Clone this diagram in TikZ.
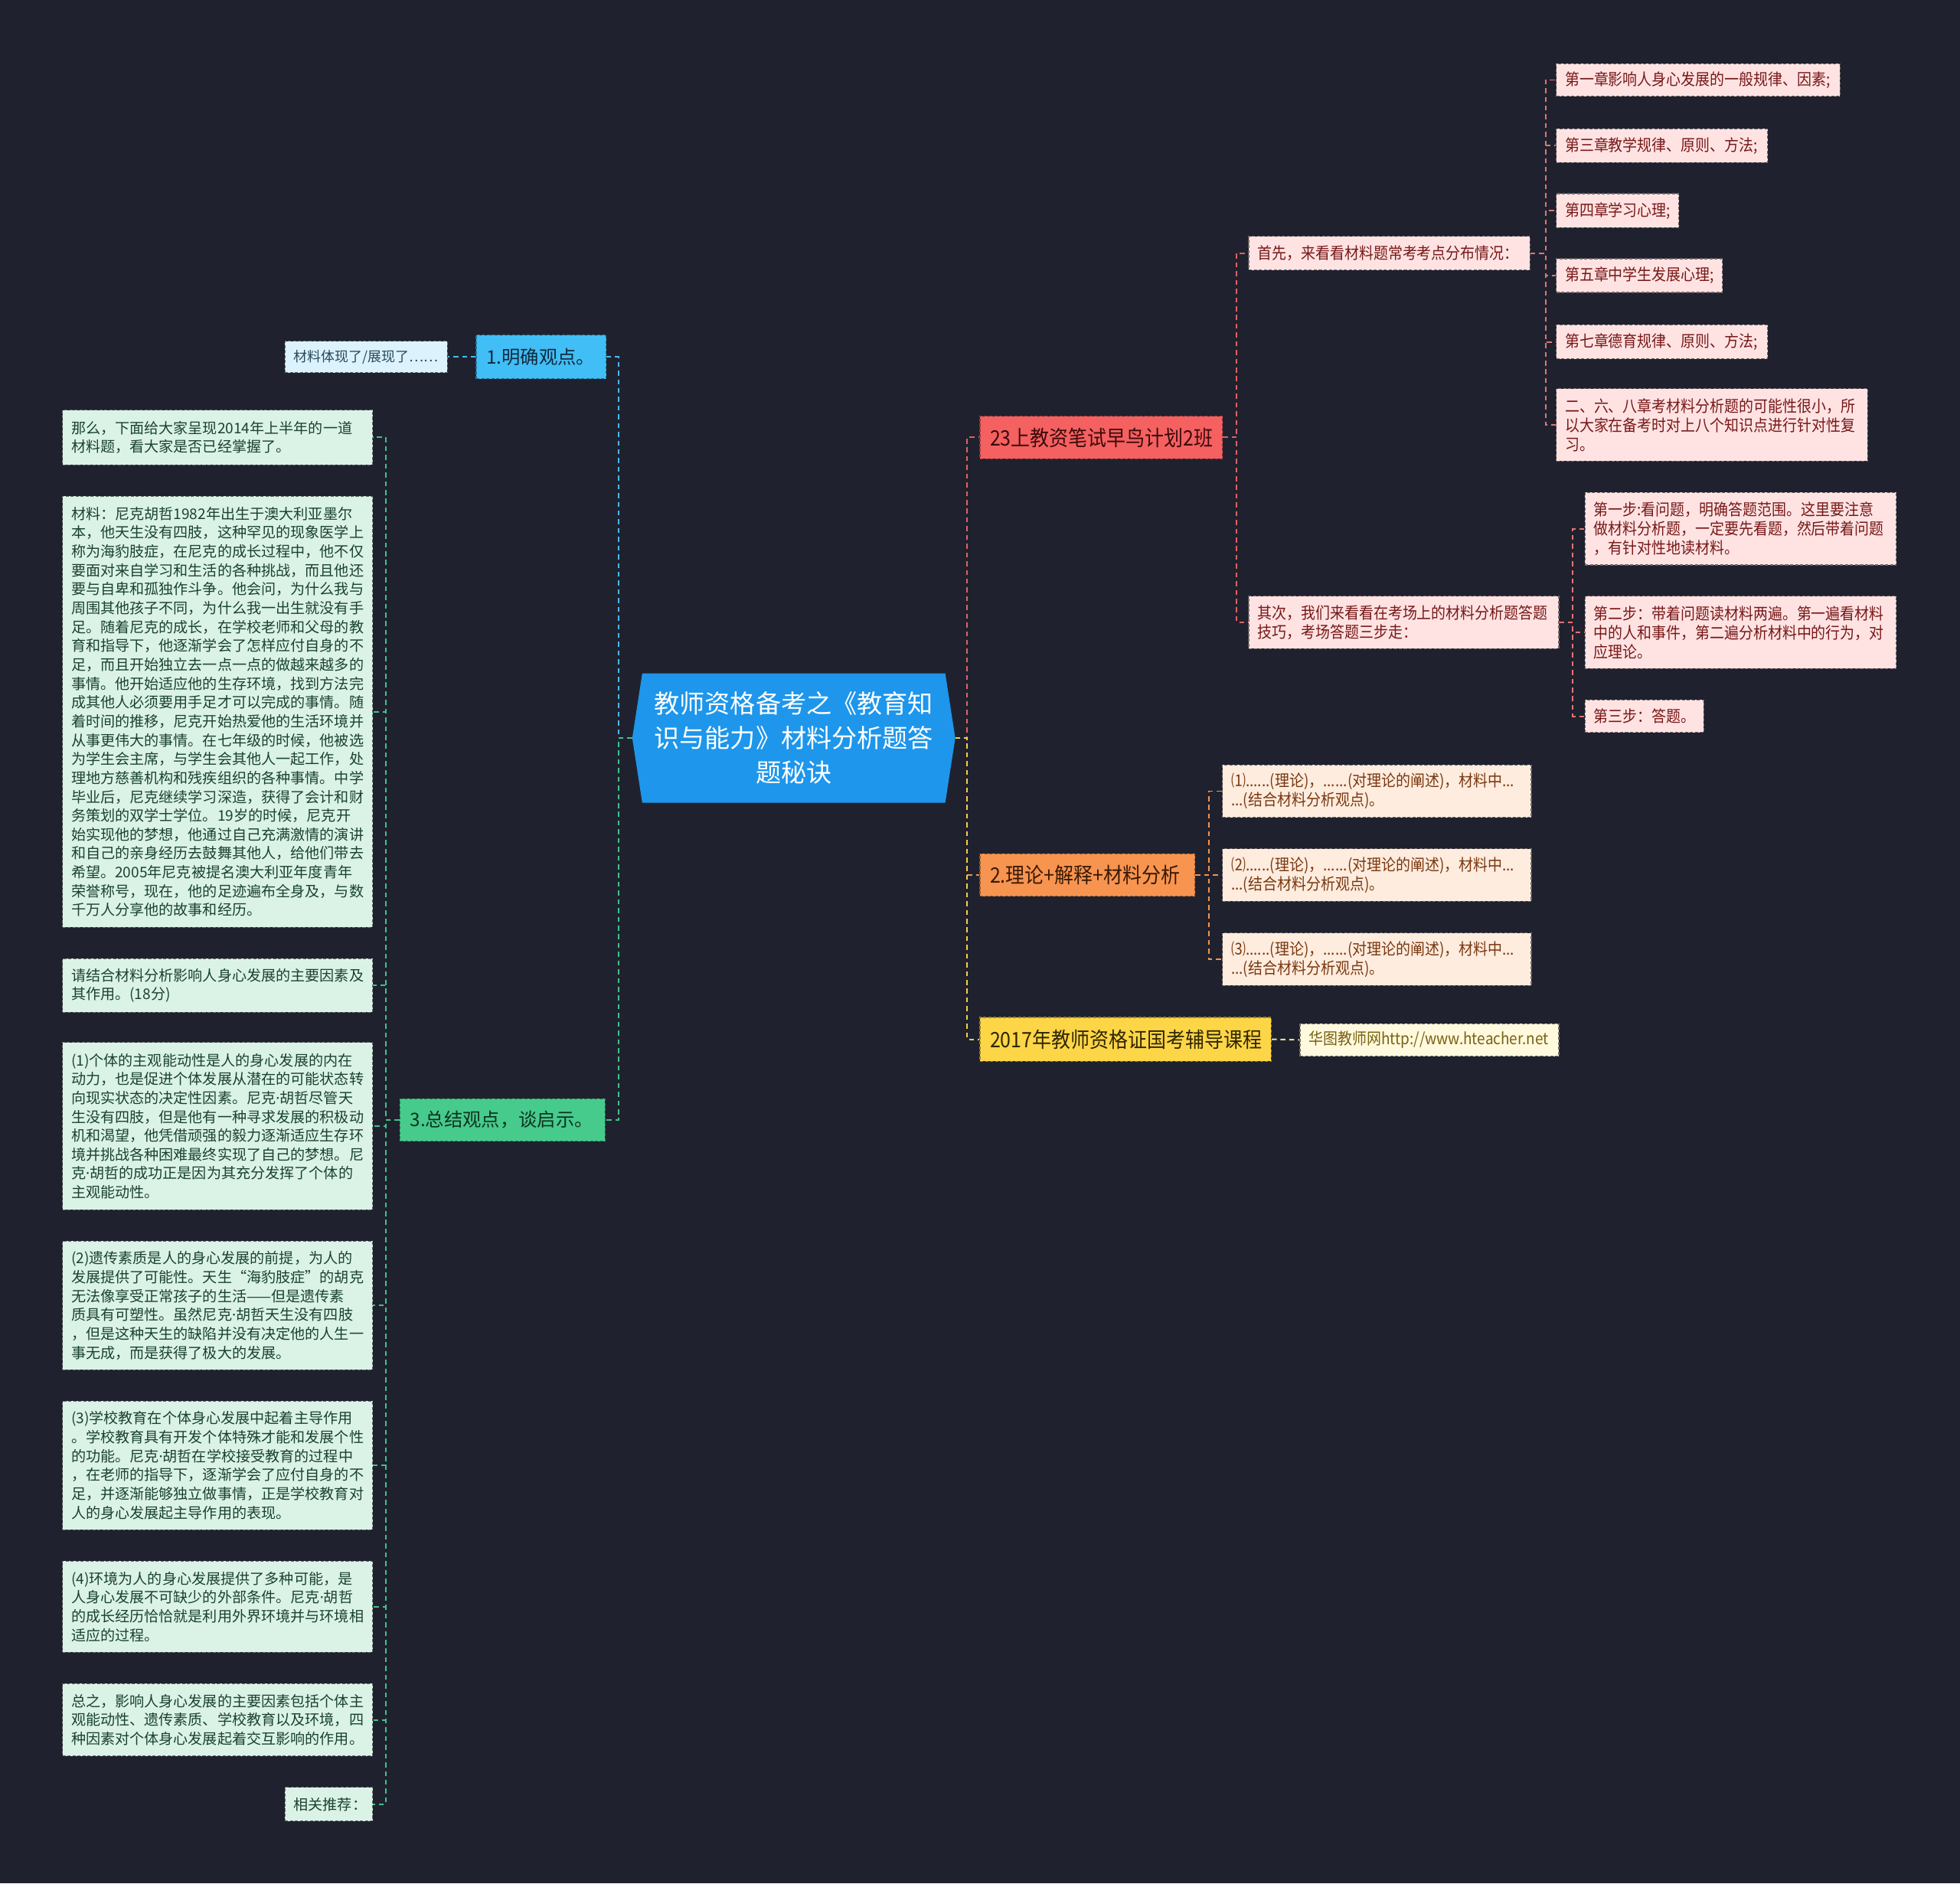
\documentclass[tikz,border=0pt]{standalone}
\usepackage{fontspec}
\setmainfont{Noto Sans CJK SC}
\newfontfamily\cjkc[FakeStretch=0.9]{Noto Sans CJK SC}
\newfontfamily\latf{Noto Sans}
\newcommand{\md}{{\latf ·}}
\usetikzlibrary{calc}

\definecolor{bgc}{RGB}{31,34,46}
\definecolor{rootf}{RGB}{30,150,235}
\definecolor{bluef}{RGB}{64,190,245}
\definecolor{bluet}{RGB}{16,42,62}
\definecolor{skyf}{RGB}{220,242,252}
\definecolor{skyt}{RGB}{40,72,92}
\definecolor{greenf}{RGB}{70,203,140}
\definecolor{greent}{RGB}{14,50,32}
\definecolor{mintf}{RGB}{219,243,231}
\definecolor{mintt}{RGB}{26,66,46}
\definecolor{redf}{RGB}{245,96,96}
\definecolor{redt}{RGB}{60,10,10}
\definecolor{pinkf}{RGB}{255,227,227}
\definecolor{pinkt}{RGB}{120,24,24}
\definecolor{orangef}{RGB}{247,148,80}
\definecolor{oranget}{RGB}{58,26,5}
\definecolor{peachf}{RGB}{254,236,222}
\definecolor{peacht}{RGB}{122,56,16}
\definecolor{yellowf}{RGB}{253,214,72}
\definecolor{yellowt}{RGB}{48,38,0}
\definecolor{creamf}{RGB}{255,249,222}
\definecolor{creamt}{RGB}{120,98,16}
\definecolor{cblue}{RGB}{75,184,238}
\definecolor{cgreen}{RGB}{66,192,138}
\definecolor{cred}{RGB}{226,96,96}
\definecolor{cpink}{RGB}{228,116,116}
\definecolor{corange}{RGB}{242,148,80}
\definecolor{cyellow}{RGB}{245,206,72}
\definecolor{ccream}{RGB}{232,218,160}

\pgfdeclarelayer{back}
\pgfdeclarelayer{wires}
\pgfsetlayers{back,wires,main}

\tikzset{
  bx/.style n args={3}{minimum width=#1pt, text width=#2pt, minimum height=#3pt},
  base/.style={rectangle, align=left, inner ysep=0pt, line width=0.7pt, dash pattern=on 2.5pt off 1.5pt},
  big/.style={base, inner xsep=8pt, font=\fontsize{14.9}{17}\selectfont},
  bigc/.style={base, inner xsep=8pt, font=\cjkc\fontsize{17}{19}\selectfont},
  small/.style={base, inner xsep=7pt, font=\fontsize{11.7}{15.1}\selectfont},
  smallc/.style={base, inner xsep=7pt, font=\cjkc\fontsize{12.9}{15.3}\selectfont},
  bluebox/.style={big, fill=bluef, draw=bluef!60!black, text=bluet},
  skybox/.style={small, fill=skyf, draw=skyf!45!black, text=skyt, font=\fontsize{11}{14}\selectfont},
  greenbox/.style={big, fill=greenf, draw=greenf!60!black, text=greent},
  mintbox/.style={small, fill=mintf, draw=mintf!45!black, text=mintt},
  redbox/.style={bigc, fill=redf, draw=redf!60!black, text=redt},
  pinkbox/.style={smallc, fill=pinkf, draw=pinkf!45!black, text=pinkt},
  orangebox/.style={bigc, fill=orangef, draw=orangef!60!black, text=oranget},
  peachbox/.style={smallc, fill=peachf, draw=peachf!45!black, text=peacht},
  yellowbox/.style={bigc, fill=yellowf, draw=yellowf!60!black, text=yellowt},
  creambox/.style={smallc, fill=creamf, draw=creamf!45!black, text=creamt},
  rootn/.style={rectangle, inner sep=0pt, align=center, text=white, font=\fontsize{20.3}{27.5}\selectfont},
  conn/.style={line width=1.2pt, dash pattern=on 4pt off 3pt},
}

\begin{document}
\begin{tikzpicture}[x=1pt, y=-1pt]
\useasboundingbox (0,0) rectangle (1568,1507);
\begin{pgfonlayer}{back}
  \fill[bgc] (0,0) rectangle (1568,1507);
\end{pgfonlayer}

% root
\node[rootn, minimum width=258pt, minimum height=103pt] (root) at (635,590.5)
  {教师资格备考之《教育知\\识与能力》材料分析题答\\题秘诀};
\begin{pgfonlayer}{back}
  \fill[rootf] (root.west) -- ($(root.north west)+(8,0)$) -- ($(root.north east)+(-8,0)$)
    -- (root.east) -- ($(root.south east)+(-8,0)$) -- ($(root.south west)+(8,0)$) -- cycle;
\end{pgfonlayer}

% left side
\node[bluebox, bx={104}{88}{35}] (n1) at (433,285.5) {1.明确观点。};
\node[skybox, bx={130}{116}{25}] (n1c) at (293,285.5) {材料体现了/展现了……};
\node[greenbox, bx={164}{148}{34}] (n3) at (402,896) {3.总结观点，谈启示。};

\node[mintbox, bx={248}{234}{44}] (m1) at (174,350)
  {那么，下面给大家呈现2014年上半年的一道\\材料题，看大家是否已经掌握了。};
\node[mintbox, bx={248}{234}{345}] (m2) at (174,569.5)
  {材料：尼克胡哲1982年出生于澳大利亚墨尔\\
本，他天生没有四肢，这种罕见的现象医学上\\
称为海豹肢症，在尼克的成长过程中，他不仅\\
要面对来自学习和生活的各种挑战，而且他还\\
要与自卑和孤独作斗争。他会问，为什么我与\\
周围其他孩子不同，为什么我一出生就没有手\\
足。随着尼克的成长，在学校老师和父母的教\\
育和指导下，他逐渐学会了怎样应付自身的不\\
足，而且开始独立去一点一点的做越来越多的\\
事情。他开始适应他的生存环境，找到方法完\\
成其他人必须要用手足才可以完成的事情。随\\
着时间的推移，尼克开始热爱他的生活环境并\\
从事更伟大的事情。在七年级的时候，他被选\\
为学生会主席，与学生会其他人一起工作，处\\
理地方慈善机构和残疾组织的各种事情。中学\\
毕业后，尼克继续学习深造，获得了会计和财\\
务策划的双学士学位。19岁的时候，尼克开\\
始实现他的梦想，他通过自己充满激情的演讲\\
和自己的亲身经历去鼓舞其他人，给他们带去\\
希望。2005年尼克被提名澳大利亚年度青年\\
荣誉称号，现在，他的足迹遍布全身及，与数\\
千万人分享他的故事和经历。};
\node[mintbox, bx={248}{234}{43}] (m3) at (174,788.5)
  {请结合材料分析影响人身心发展的主要因素及\\其作用。(18分)};
\node[mintbox, bx={248}{234}{134}] (m4) at (174,901)
  {(1)个体的主观能动性是人的身心发展的内在\\
动力，也是促进个体发展从潜在的可能状态转\\
向现实状态的决定性因素。尼克\md 胡哲尽管天\\
生没有四肢，但是他有一种寻求发展的积极动\\
机和渴望，他凭借顽强的毅力逐渐适应生存环\\
境并挑战各种困难最终实现了自己的梦想。尼\\
克\md 胡哲的成功正是因为其充分发挥了个体的\\
主观能动性。};
\node[mintbox, bx={248}{234}{103}] (m5) at (174,1044.5)
  {(2)遗传素质是人的身心发展的前提，为人的\\
发展提供了可能性。天生“海豹肢症”的胡克\\
无法像享受正常孩子的生活——但是遗传素\\
质具有可塑性。虽然尼克\md 胡哲天生没有四肢\\
，但是这种天生的缺陷并没有决定他的人生一\\
事无成，而是获得了极大的发展。};
\node[mintbox, bx={248}{234}{103}] (m6) at (174,1172.5)
  {(3)学校教育在个体身心发展中起着主导作用\\
。学校教育具有开发个体特殊才能和发展个性\\
的功能。尼克\md 胡哲在学校接受教育的过程中\\
，在老师的指导下，逐渐学会了应付自身的不\\
足，并逐渐能够独立做事情，正是学校教育对\\
人的身心发展起主导作用的表现。};
\node[mintbox, bx={248}{234}{73}] (m7) at (174,1285.5)
  {(4)环境为人的身心发展提供了多种可能，是\\
人身心发展不可缺少的外部条件。尼克\md 胡哲\\
的成长经历恰恰就是利用外界环境并与环境相\\
适应的过程。};
\node[mintbox, bx={248}{234}{58}] (m8) at (174,1376)
  {总之，影响人身心发展的主要因素包括个体主\\
观能动性、遗传素质、学校教育以及环境，四\\
种因素对个体身心发展起着交互影响的作用。};
\node[mintbox, bx={70}{56}{27}] (m9) at (263,1443.5) {相关推荐：};

% right side level 1
\node[redbox, bx={194}{178}{34}] (r1) at (881,350) {23上教资笔试早鸟计划2班};
\node[orangebox, bx={172}{156}{34}] (r2) at (870,700) {2.理论+解释+材料分析};
\node[yellowbox, bx={233}{217}{35}] (r3) at (900.5,831.5) {2017年教师资格证国考辅导课程};

% red subtree
\node[pinkbox, bx={225}{211}{27}] (a1) at (1111.5,202.5) {首先，来看看材料题常考考点分布情况：};
\node[pinkbox, bx={248}{234}{42}] (a2) at (1123,498)
  {其次，我们来看看在考场上的材料分析题答题\\技巧，考场答题三步走：};
\node[pinkbox, bx={227}{213}{26}] (b1) at (1358.5,64) {第一章影响人身心发展的一般规律、因素;};
\node[pinkbox, bx={169}{155}{27}] (b2) at (1329.5,116.5) {第三章教学规律、原则、方法;};
\node[pinkbox, bx={98}{84}{27}] (b3) at (1294,168.5) {第四章学习心理;};
\node[pinkbox, bx={133}{119}{27}] (b4) at (1311.5,220.5) {第五章中学生发展心理;};
\node[pinkbox, bx={169}{155}{27}] (b5) at (1329.5,273.5) {第七章德育规律、原则、方法;};
\node[pinkbox, bx={249}{235}{58}] (b6) at (1369.5,340)
  {二、六、八章考材料分析题的可能性很小，所\\以大家在备考时对上八个知识点进行针对性复\\习。};
\node[pinkbox, bx={249}{235}{58}] (c1) at (1392.5,423)
  {第一步:看问题，明确答题范围。这里要注意\\做材料分析题，一定要先看题，然后带着问题\\，有针对性地读材料。};
\node[pinkbox, bx={249}{235}{58}] (c2) at (1392.5,506)
  {第二步：带着问题读材料两遍。第一遍看材料\\中的人和事件，第二遍分析材料中的行为，对\\应理论。};
\node[pinkbox, bx={95}{81}{26}] (c3) at (1315.5,573) {第三步：答题。};

% orange subtree
\node[peachbox, bx={247}{233}{42}] (d1) at (1101.5,633)
  {⑴......(理论)，......(对理论的阐述)，材料中...\\...(结合材料分析观点)。};
\node[peachbox, bx={247}{233}{42}] (d2) at (1101.5,700)
  {⑵......(理论)，......(对理论的阐述)，材料中...\\...(结合材料分析观点)。};
\node[peachbox, bx={247}{233}{42}] (d3) at (1101.5,767.5)
  {⑶......(理论)，......(对理论的阐述)，材料中...\\...(结合材料分析观点)。};

% yellow subtree
\node[creambox, bx={207}{193}{26}] (e1) at (1143.5,832) {华图教师网http://www.hteacher.net};

% connectors
\begin{pgfonlayer}{wires}
  \draw[conn, cblue] (root.west) -- ++(-11,0) |- (n1.east);
  \draw[conn, cblue] (n1.west) -- (n1c.east);
  \draw[conn, cgreen] (root.west) -- ++(-11,0) |- (n3.east);
  \foreach \m in {m1,m2,m3,m4,m5,m6,m7,m8,m9}
    \draw[conn, cgreen] (n3.west) -- ++(-11,0) |- (\m.east);

  \draw[conn, cred] (root.east) -- ++(9.5,0) |- (r1.west);
  \draw[conn, corange] (root.east) -- ++(9.5,0) |- (r2.west);
  \draw[conn, cyellow] (root.east) -- ++(9.5,0) |- (r3.west);

  \draw[conn, cred] (r1.east) -- ++(11,0) |- (a1.west);
  \draw[conn, cred] (r1.east) -- ++(11,0) |- (a2.west);
  \foreach \b in {b1,b2,b3,b4,b5,b6}
    \draw[conn, cpink] (a1.east) -- ++(12,0) |- (\b.west);
  \foreach \c in {c1,c2,c3}
    \draw[conn, cpink] (a2.east) -- ++(11,0) |- (\c.west);
  \foreach \d in {d1,d2,d3}
    \draw[conn, corange] (r2.east) -- ++(11,0) |- (\d.west);
  \draw[conn, ccream] (r3.east) -- (e1.west);
\end{pgfonlayer}
\end{tikzpicture}
\end{document}
